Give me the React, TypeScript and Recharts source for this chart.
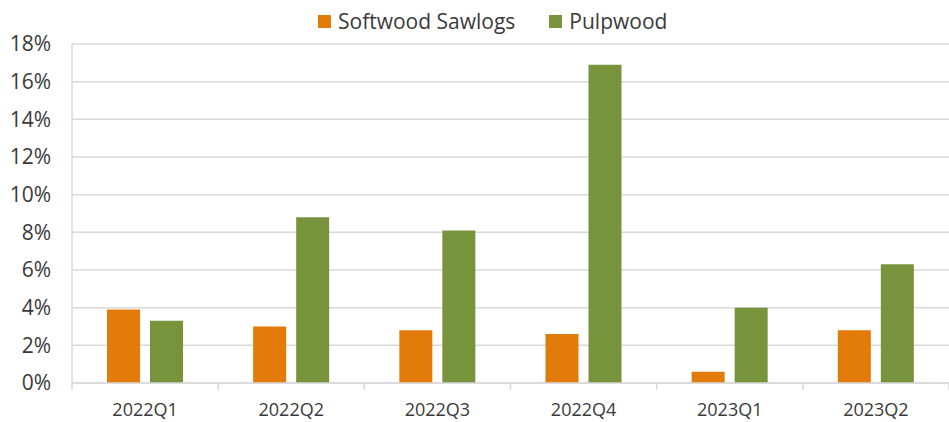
import React from "react"
import { BarChart, Bar, XAxis, YAxis, CartesianGrid, Legend } from "recharts"

const quarters = ["2022Q1", "2022Q2", "2022Q3", "2022Q4", "2023Q1", "2023Q2"]
const softwoodSawlogs = [3.9, 3.0, 2.8, 2.6, 0.6, 2.8]
const pulpwood = [3.3, 8.8, 8.1, 16.9, 4.0, 6.3]
const yTicks = [0, 2, 4, 6, 8, 10, 12, 14, 16, 18]

const seriesNames = ["Softwood Sawlogs", "Pulpwood"]
const seriesColors = ["#E27B0A", "#77933C"]

const data = quarters.map((q, i) => ({
  quarter: q,
  softwood: softwoodSawlogs[i],
  pulp: pulpwood[i],
}))

const W = 949
const H = 422
const LEFT = 72
const LEGEND_H = 42
const TOP = 44
const BOTTOM = 39
const FONT = "'Open Sans', sans-serif"
const GRID = "#d9d9d9"

// category tick: boundary marks plus label
function QuarterTick(props: any) {
  const { x, y, payload, index } = props
  const bw = (W - LEFT) / quarters.length
  const axisY = H - BOTTOM
  return (
    <g>
      <line x1={x - bw / 2} x2={x - bw / 2} y1={axisY} y2={axisY + 7} stroke={GRID} strokeWidth={1.5} />
      {index === quarters.length - 1 && (
        <line x1={x + bw / 2} x2={x + bw / 2} y1={axisY} y2={axisY + 7} stroke={GRID} strokeWidth={1.5} />
      )}
      <text x={x} y={y} dy="0.71em" textAnchor="middle" fill="#3a3a3a" fontSize={18} fontFamily={FONT}>
        {payload.value}
      </text>
    </g>
  )
}

function TopLegend() {
  return (
    <div style={{ display: "flex", alignItems: "center", height: LEGEND_H, paddingLeft: 318, fontFamily: FONT, fontSize: 21, color: "#3a3a3a" }}>
      {seriesNames.map((name, i) => (
        <div key={name} style={{ display: "flex", alignItems: "center", marginRight: 34 }}>
          <span style={{ width: 13, height: 13, background: seriesColors[i], marginRight: 7, display: "inline-block" }} />
          <span>{name}</span>
        </div>
      ))}
    </div>
  )
}

export default function App() {
  return (
    <div style={{ position: "absolute", left: 0, top: 0, width: W, height: H, background: "#fff" }}>
      <BarChart
        width={W}
        height={H}
        data={data}
        margin={{ top: TOP - LEGEND_H, right: 0, left: 0, bottom: 0 }}
        barSize={33}
        barGap={10}
      >
        <CartesianGrid vertical={false} stroke={GRID} strokeWidth={1.5} />
        <XAxis
          dataKey="quarter"
          height={BOTTOM}
          axisLine={{ stroke: GRID, strokeWidth: 1.5 }}
          tickLine={false}
          tickSize={0}
          tickMargin={20}
          tick={<QuarterTick />}
          interval={0}
        />
        <YAxis
          width={LEFT}
          domain={[0, 18]}
          ticks={yTicks}
          tickFormatter={(v) => `${v}%`}
          axisLine={{ stroke: GRID, strokeWidth: 1.5 }}
          tickLine={false}
          tickSize={0}
          tickMargin={21}
          tick={{ fill: "#3a3a3a", fontSize: 21, fontFamily: FONT }}
        />
        <Legend verticalAlign="top" wrapperStyle={{ top: 0, left: 0, width: W }} content={() => <TopLegend />} />
        <Bar dataKey="softwood" name={seriesNames[0]} fill={seriesColors[0]} isAnimationActive={false} />
        <Bar dataKey="pulp" name={seriesNames[1]} fill={seriesColors[1]} isAnimationActive={false} />
      </BarChart>
    </div>
  )
}
